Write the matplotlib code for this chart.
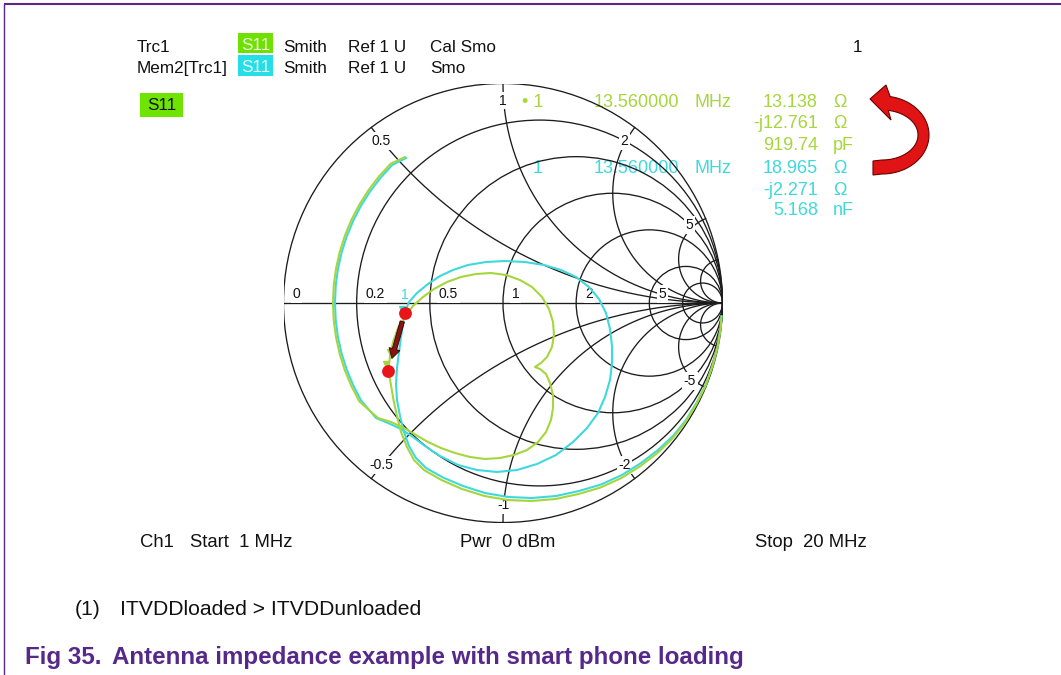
import numpy as np
import matplotlib.pyplot as plt
from matplotlib.patches import FancyArrowPatch, Rectangle, Circle, Polygon

plt.rcParams['font.family'] = ['Liberation Sans', 'DejaVu Sans']

W, H = 1061, 675
CX, CY, RAD = 503, 303, 219.5   # smith chart centre / radius in pixels

# normalised grid of the smith chart
r_grid = [0.2, 0.5, 1, 2, 5, 10]
x_grid = [0.5, 1, 2, 5, 10]
r_ticks = [0, 0.2, 0.5, 1, 2, 5]
r_ticklabels = ['0', '0.2', '0.5', '1', '2', '5']
x_ticks = [0.5, 1, 2, 5, -0.5, -1, -2, -5]
x_ticklabels = ['0.5', '1', '2', '5', '-0.5', '-1', '-2', '-5']

# S11 sweep 1 MHz .. 20 MHz as reflection coefficient, Trc1 (loaded)
trc1_re = [0.9954, 0.9909, 0.9772, 0.9544, 0.9226, 0.8815, 0.8314, 0.7722, 0.7039, 0.6264,
           0.5399, 0.4442, 0.3440, 0.2392, 0.1298, 0.0205, -0.0843, -0.1868, -0.2802, -0.3599,
           -0.4055, -0.4374, -0.4647, -0.4829, -0.4989, -0.5103, -0.5220, -0.5148, -0.5011, -0.4784,
           -0.4465, -0.4100, -0.3645, -0.3144, -0.2551, -0.1913, -0.1230, -0.0547, 0.0137, 0.0774,
           0.1321, 0.1777, 0.2096, 0.2278, 0.2323, 0.2232, 0.2005, 0.1731, 0.1458, 0.1686,
           0.1959, 0.2141, 0.2278, 0.2278, 0.2187, 0.1959, 0.1595, 0.1093, 0.0501, -0.0137,
           -0.0820, -0.1503, -0.2187, -0.2825, -0.3417, -0.3964, -0.4510, -0.5103, -0.5695, -0.6542,
           -0.6902, -0.7203, -0.7440, -0.7608, -0.7713, -0.7745, -0.7713, -0.7608, -0.7440, -0.7203,
           -0.6902, -0.6542, -0.6123, -0.5649, -0.5116, -0.4465]
trc1_im = [-0.0638, -0.1185, -0.2005, -0.2870, -0.3781, -0.4601, -0.5421, -0.6173, -0.6834, -0.7426,
           -0.7973, -0.8405, -0.8702, -0.8929, -0.9021, -0.8975, -0.8793, -0.8474, -0.8064, -0.7608,
           -0.7153, -0.6560, -0.5877, -0.5148, -0.4419, -0.3736, -0.3070, -0.2415, -0.1777, -0.1139,
           -0.0592, -0.0137, 0.0273, 0.0638, 0.0957, 0.1185, 0.1321, 0.1367, 0.1276, 0.1048,
           0.0729, 0.0273, -0.0273, -0.0866, -0.1458, -0.2005, -0.2460, -0.2733, -0.2916, -0.3007,
           -0.3235, -0.3645, -0.4191, -0.4784, -0.5330, -0.5877, -0.6333, -0.6697, -0.6925, -0.7062,
           -0.7107, -0.7016, -0.6834, -0.6606, -0.6333, -0.6014, -0.5695, -0.5421, -0.5239, -0.4487,
           -0.3795, -0.3071, -0.2323, -0.1558, -0.0784, 0.0000, 0.0784, 0.1558, 0.2323, 0.3071,
           0.3795, 0.4487, 0.5148, 0.5768, 0.6346, 0.6651]

# memory trace Mem2[Trc1] (unloaded)
mem2_re = [0.9954, 0.9909, 0.9795, 0.9567, 0.9248, 0.8838, 0.8337, 0.7745, 0.7062, 0.6287,
           0.5421, 0.4465, 0.3462, 0.2415, 0.1321, 0.0228, -0.0820, -0.1822, -0.2733, -0.3508,
           -0.3964, -0.4282, -0.4510, -0.4692, -0.4829, -0.4875, -0.4829, -0.4738, -0.4647, -0.4556,
           -0.4490, -0.4282, -0.3918, -0.3417, -0.2870, -0.2278, -0.1595, -0.0774, 0.0091, 0.1002,
           0.1868, 0.2642, 0.3326, 0.3918, 0.4374, 0.4692, 0.4875, 0.4966, 0.4966, 0.4875,
           0.4647, 0.4328, 0.3827, 0.3189, 0.2415, 0.1549, 0.0638, -0.0273, -0.1185, -0.2050,
           -0.2870, -0.3554, -0.4100, -0.4647, -0.5239, -0.5786, -0.6465, -0.6820, -0.7116, -0.7353,
           -0.7522, -0.7622, -0.7654, -0.7622, -0.7522, -0.7353, -0.7116, -0.6820, -0.6465, -0.6046,
           -0.5576, -0.5052, -0.4419]
mem2_im = [-0.0592, -0.1139, -0.1913, -0.2779, -0.3690, -0.4510, -0.5330, -0.6059, -0.6697, -0.7289,
           -0.7836, -0.8269, -0.8565, -0.8793, -0.8884, -0.8838, -0.8656, -0.8337, -0.7950, -0.7517,
           -0.7062, -0.6515, -0.5877, -0.5148, -0.4419, -0.3690, -0.2961, -0.2232, -0.1549, -0.0957,
           -0.0480, 0.0046, 0.0456, 0.0866, 0.1230, 0.1503, 0.1731, 0.1868, 0.1913, 0.1868,
           0.1731, 0.1503, 0.1185, 0.0729, 0.0182, -0.0456, -0.1185, -0.1959, -0.2733, -0.3508,
           -0.4282, -0.5011, -0.5695, -0.6333, -0.6925, -0.7335, -0.7608, -0.7699, -0.7608, -0.7380,
           -0.6970, -0.6515, -0.6105, -0.5740, -0.5467, -0.5239, -0.4442, -0.3754, -0.3039, -0.2301,
           -0.1544, -0.0774, 0.0000, 0.0774, 0.1544, 0.2301, 0.3039, 0.3754, 0.4442, 0.5093,
           0.5708, 0.6282, 0.6606]

# marker 1 readout
mkr_freq = '13.560000'
trc1_mkr_r, trc1_mkr_x, trc1_mkr_c, trc1_mkr_cu = 13.138, -12.761, '919.74', 'pF'
mem2_mkr_r, mem2_mkr_x, mem2_mkr_c, mem2_mkr_cu = 18.965, -2.271, '5.168', 'nF'
Z0 = 50.0

GREEN = '#a6d63c'
CYAN = '#3fd9dc'
GRID = '#1c1c1c'
PURPLE = '#55288a'


def gamma(z):
    return (z - 1) / (z + 1)


fig = plt.figure(figsize=(W / 100, H / 100), dpi=100)
page = fig.add_axes([0, 0, 1, 1])
page.set_xlim(0, W)
page.set_ylim(H, 0)
page.axis('off')

sm = fig.add_axes([(CX - RAD) / W, (H - CY - RAD) / H, 2 * RAD / W, 2 * RAD / H])
sm.set_xlim(-1, 1)
sm.set_ylim(-1, 1)
sm.axis('off')

# ---- grid
sm.add_patch(Circle((0, 0), 1, fill=False, ec=GRID, lw=0.95, zorder=2))
sm.plot([-1, 1], [0, 0], color=GRID, lw=0.95, zorder=2)
for r in r_grid:
    sm.add_patch(Circle((r / (1 + r), 0), 1 / (1 + r), fill=False, ec=GRID, lw=0.95,
                        zorder=2))
t = np.concatenate([[0], np.geomspace(1e-3, 1e4, 500)])
for x in x_grid:
    for s in (1, -1):
        g = gamma(t + 1j * s * x)
        sm.plot(g.real, g.imag, color=GRID, lw=0.95, zorder=2)

lab_box = dict(boxstyle='square,pad=0.12', fc='white', ec='none')
for r, lab in zip(r_ticks, r_ticklabels):
    sm.annotate(lab, (gamma(r + 0j).real, 0), xytext=(9, 5), textcoords='offset pixels',
                ha='left', va='baseline', fontsize=10, color='#111111',
                bbox=lab_box, zorder=3)
for x, lab in zip(x_ticks, x_ticklabels):
    g = gamma(1j * x) * 0.922
    sm.text(g.real, g.imag, lab, ha='center', va='center', fontsize=10,
            color='#111111', bbox=lab_box, zorder=3)

# ---- traces
sm.plot(mem2_re, mem2_im, color=CYAN, lw=1.5, zorder=4, solid_joinstyle='round')
sm.plot(trc1_re, trc1_im, color=GREEN, lw=1.5, zorder=5, solid_joinstyle='round')

g1 = gamma(complex(trc1_mkr_r, trc1_mkr_x) / Z0)
g2 = gamma(complex(mem2_mkr_r, mem2_mkr_x) / Z0)
sm.plot([g2.real - 0.012], [g2.imag + 0.022], marker='v', ms=5, color=CYAN, zorder=6)
sm.text(g2.real, g2.imag + 0.05, '1', color=CYAN, fontsize=10, ha='center',
        va='bottom', zorder=6)
sm.plot([g1.real - 0.012], [g1.imag + 0.03], marker='v', ms=5, color=GREEN, zorder=6)
sm.plot([g1.real + 0.005], [g1.imag + 0.085], marker='v', ms=4, color=GREEN, zorder=6)
sm.scatter([g2.real, g1.real], [g2.imag, g1.imag], s=85, color='#e8151b', zorder=7,
           linewidths=0)
sm.add_patch(FancyArrowPatch((g2.real, g2.imag), (g1.real, g1.imag),
                             arrowstyle='simple,head_length=7,head_width=8,tail_width=3.2',
                             mutation_scale=1, shrinkA=6, shrinkB=9, fc='#8a1212',
                             ec='#2a0000', lw=0.6, zorder=8))

# ---- header lines
hdr = dict(fontsize=12.3, color='#111111', va='baseline')
page.add_patch(Rectangle((238, 33), 35, 20, fc='#6fe000', ec='none'))
page.add_patch(Rectangle((238, 55), 35, 21, fc='#26dfe6', ec='none'))
page.text(137, 52, 'Trc1', **hdr)
page.text(255.5, 50, 'S11', fontsize=12.3, color='#e8ffe0', ha='center', va='baseline')
page.text(283, 52, 'Smith', **hdr)
page.text(348, 52, 'Ref 1 U', **hdr)
page.text(430, 52, 'Cal Smo', **hdr)
page.text(862, 52, '1', ha='right', **hdr)
page.text(137, 73, 'Mem2[Trc1]', **hdr)
page.text(255.5, 72, 'S11', fontsize=12.3, color='#e8fffe', ha='center', va='baseline')
page.text(283, 73, 'Smith', **hdr)
page.text(348, 73, 'Ref 1 U', **hdr)
page.text(430, 73, 'Smo', **hdr)

page.add_patch(Rectangle((140, 93), 43, 24, fc='#6ee400', ec='none'))
page.text(161.5, 110, 'S11', fontsize=12.3, color='#111111', ha='center', va='baseline')

# ---- marker readout
rd = dict(fontsize=13, va='baseline')
rows = [
    (107, GREEN, '\u2022 1', mkr_freq, 'MHz', f'{trc1_mkr_r:.3f}', '\u03a9'),
    (128, GREEN, '', '', '', f'-j{abs(trc1_mkr_x):.3f}', '\u03a9'),
    (150, GREEN, '', '', '', trc1_mkr_c, trc1_mkr_cu),
    (173, CYAN, '1', mkr_freq, 'MHz', f'{mem2_mkr_r:.3f}', '\u03a9'),
    (195, CYAN, '', '', '', f'-j{abs(mem2_mkr_x):.3f}', '\u03a9'),
    (215, CYAN, '', '', '', mem2_mkr_c, mem2_mkr_cu),
]
for y, c, m, f, fu, v, u in rows:
    if m:
        page.text(543, y, m, color=c, ha='right', **rd)
        page.text(679, y, f, color=c, ha='right', **rd)
        page.text(695, y, fu, color=c, ha='left', **rd)
    page.text(818, y, v, color=c, ha='right', **rd)
    page.text(833, y, u, color=c, ha='left', **rd)

# curved call-out arrow: half-elliptic band with a head pointing left
ecx, ecy = 882, 135
th = np.radians(np.linspace(90, -80, 60))
outer = np.c_[ecx + 47 * np.cos(th), ecy + 39 * np.sin(th)]
inner = np.c_[ecx + 36 * np.cos(th), ecy + 25 * np.sin(th)][::-1]
arrow_xy = np.vstack([[[873, 175]], outer, [[886, 85], [870, 99], [891, 120]],
                      inner, [[873, 161]]])
page.add_patch(Polygon(arrow_xy, closed=True, fc='#e01414', ec='#6a0000', lw=0.8,
                       zorder=5))

# ---- footer
ft = dict(fontsize=13.3, color='#111111', va='baseline')
page.text(140, 547, 'Ch1', **ft)
page.text(190, 547, 'Start  1 MHz', **ft)
page.text(460, 547, 'Pwr  0 dBm', **ft)
page.text(755, 547, 'Stop  20 MHz', **ft)

page.text(75, 615, '(1)', fontsize=15.2, color='#111111', va='baseline')
page.text(120, 615, 'ITVDDloaded > ITVDDunloaded', fontsize=15.2, color='#111111',
          va='baseline')
page.text(25, 664, 'Fig 35.', fontsize=17.4, fontweight='bold', color=PURPLE,
          va='baseline')
page.text(112, 664, 'Antenna impedance example with smart phone loading', fontsize=17.4,
          fontweight='bold', color=PURPLE, va='baseline')

# page frame
page.plot([4, W], [4, 4], color=PURPLE, lw=1.5, solid_capstyle='butt')
page.plot([4, 4], [4, H], color=PURPLE, lw=1.0, solid_capstyle='butt')

fig.savefig('out.png', dpi=100)
